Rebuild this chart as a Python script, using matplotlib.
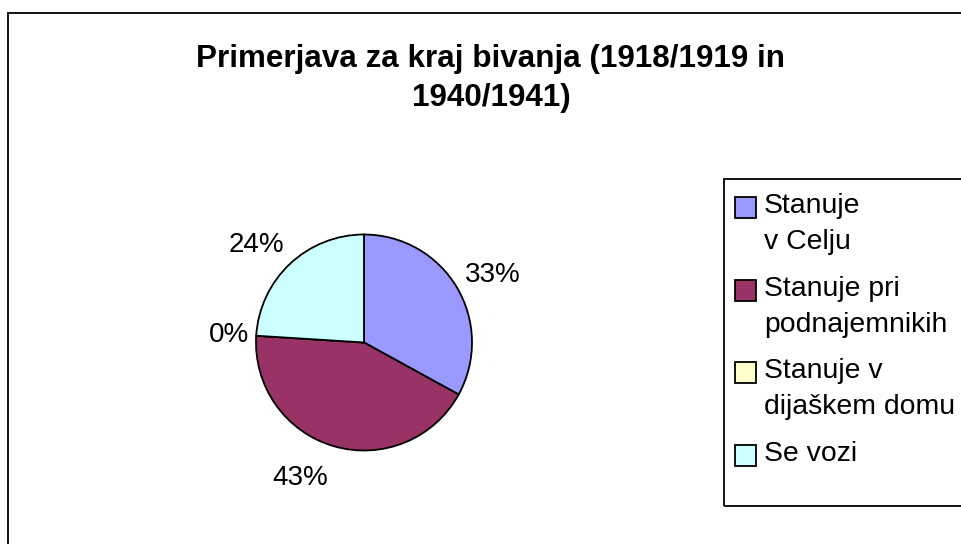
import matplotlib.pyplot as plt
from matplotlib.patches import Rectangle

plt.rcParams['font.family'] = ['Liberation Sans', 'DejaVu Sans']

# data
categories = ["Stanuje\nv Celju", "Stanuje pri\npodnajemnikih",
              "Stanuje v\ndijaškem domu", "Se vozi"]
shares = [33, 43, 0, 24]
colors = ["#9999FF", "#993366", "#FFFFCC", "#CCFFFF"]
title = "Primerjava za kraj bivanja (1918/1919 in\n1940/1941)"

W, H = 961, 544
fig = plt.figure(figsize=(W / 100, H / 100), dpi=100)


# pixel (from top-left) -> figure fraction
def fx(px):
    return px / W


def fy(py):
    return 1 - py / H


# outer chart border (right and bottom edges fall outside the picture)
fig.patches.append(Rectangle((fx(8), -0.1), 1.2, fy(12.7) + 0.1,
                             transform=fig.transFigure, fill=False,
                             edgecolor="black", lw=1.3))

# va="baseline" on multi-line text anchors the last line
fig.text(fx(491), fy(106), title, ha="center", va="baseline",
         fontsize=22.6, fontweight="bold", linespacing=1.38)

# pie
cx, cy, r = 364, 342.5, 108
ax = fig.add_axes([fx(cx - r), fy(cy + r), 2 * r / W, 2 * r / H])
wedges, texts = ax.pie(shares, colors=colors, startangle=90, counterclock=False,
                       labels=[f"{v}%" for v in shares],
                       wedgeprops=dict(edgecolor="black", linewidth=1.3),
                       textprops=dict(fontsize=20, ha="center", va="baseline"))
ax.set_xlim(-1, 1)
ax.set_ylim(-1, 1)
ax.set_aspect("equal")

# label positions (in radius units), placed like the original
label_pos = [(1.19, 0.56), (-0.59, -1.32), (-1.25, 0.0), (-1.00, 0.84)]
for t, (lx, ly) in zip(texts, label_pos):
    t.set_position((lx, ly))

# legend box, cut off at the right edge
fig.patches.append(Rectangle((fx(724), fy(506)), 1.0, (506 - 178.7) / H,
                             transform=fig.transFigure, fill=False,
                             edgecolor="black", lw=1.3))
for i, (lab, col) in enumerate(zip(categories, colors)):
    base = 213 + 82.7 * i
    fig.patches.append(Rectangle((fx(735), fy(base + 5)), 21 / W, 21 / H,
                                 transform=fig.transFigure, facecolor=col,
                                 edgecolor="black", lw=1.3))
    for j, line in enumerate(lab.split("\n")):
        fig.text(fx(764), fy(base + 36 * j), line, fontsize=20.4,
                 ha="left", va="baseline")

fig.savefig("out.png", dpi=100)
